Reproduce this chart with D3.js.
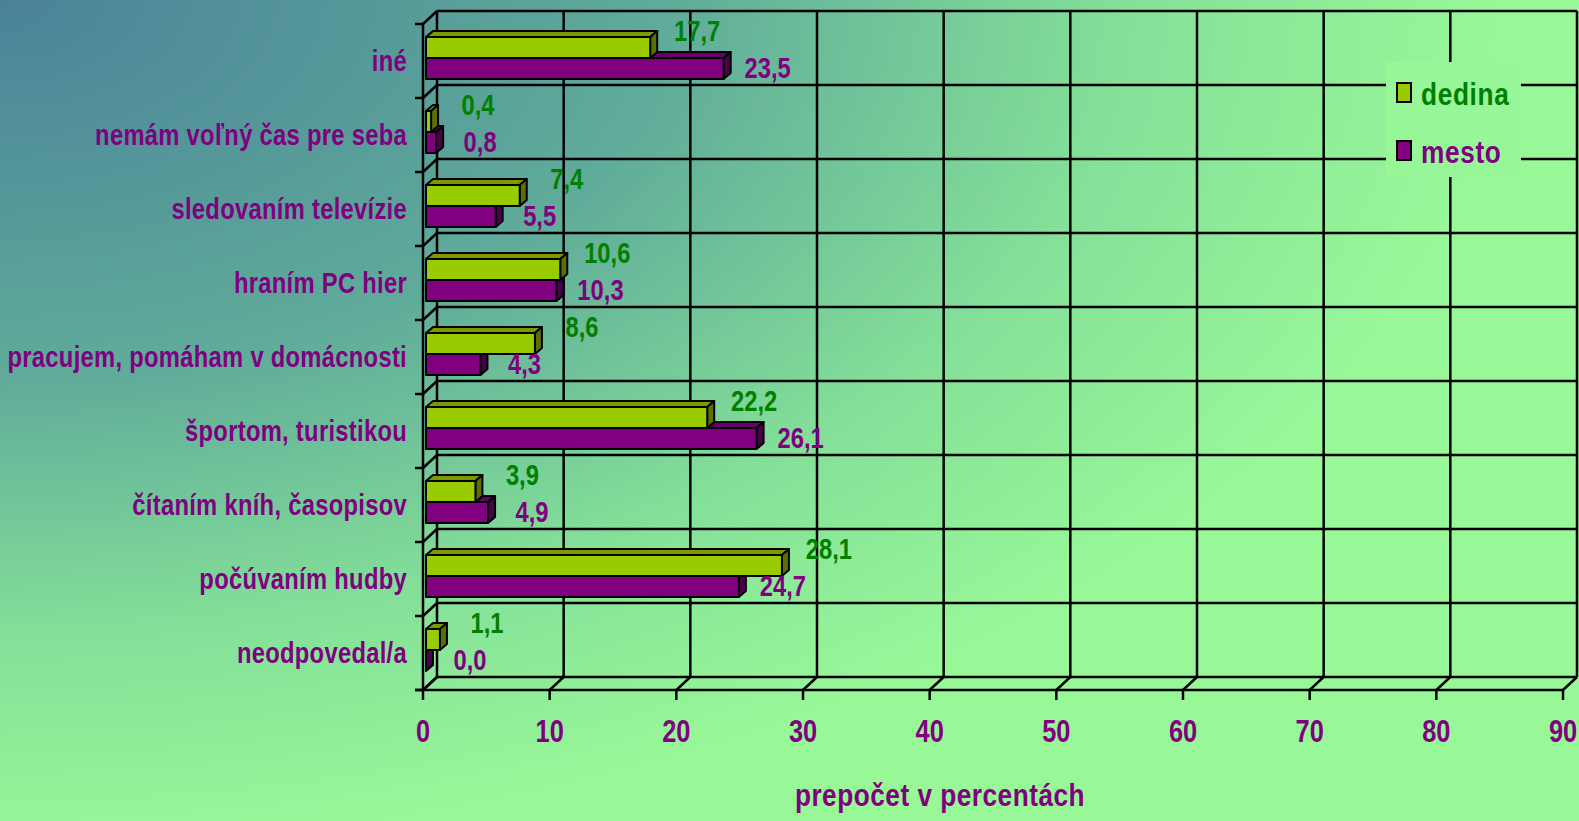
<!DOCTYPE html>
<html><head><meta charset="utf-8">
<script src="https://cdn.jsdelivr.net/npm/d3@7"></script>
<style>
html,body{margin:0;padding:0;overflow:hidden;}
text{font-family:"Liberation Sans","Arial",sans-serif;font-weight:bold;}
</style></head>
<body>
<svg id="c" width="1579" height="821"></svg>
<script>
const categories = ["iné","nemám voľný čas pre seba","sledovaním televízie","hraním PC hier","pracujem, pomáham v domácnosti","športom, turistikou","čítaním kníh, časopisov","počúvaním hudby","neodpovedal/a"];
const seriesNames = ["dedina","mesto"];
const dedina = [17.7,0.4,7.4,10.6,8.6,22.2,3.9,28.1,1.1];
const mesto  = [23.5,0.8,5.5,10.3,4.3,26.1,4.9,24.7,0.0];
const xTicks = [0,10,20,30,40,50,60,70,80,90];
const axisTitle = "prepočet v percentách";

(function(){
const svg = d3.select("#c");
const W=1579,H=821;
const DX=14, DY=-13;      // wall depth
const BX=7, BY=-6;        // bar depth
const SHIFT=3;
const NARROW=0.82;
const purple="#800080", green="#008000";
const colors={dedina:{front:"#99cc00",top:"#7a9a00",side:"#5b7000"},mesto:{front:"#800080",top:"#660066",side:"#4a004a"}};
const labelColor={dedina:green,mesto:purple};

function txt(parent,px,py,str,size,fill,anchor,ls){
  return parent.append("text")
    .attr("transform",`translate(${px},${py}) scale(${NARROW},1)`)
    .attr("font-size",size).attr("fill",fill).attr("text-anchor",anchor||"start")
    .attr("letter-spacing",ls||0).text(str);
}

const defs=svg.append("defs");
const rg=defs.append("radialGradient").attr("id","bg").attr("gradientUnits","userSpaceOnUse")
  .attr("cx",0).attr("cy",0).attr("r",1).attr("fx",0).attr("fy",0)
  .attr("gradientTransform","scale(1500,850)");
[[0,"#4a8299"],[0.45,"#60ac9a"],[0.75,"#84e098"],[1,"#98f898"]].forEach(s=>rg.append("stop").attr("offset",s[0]).attr("stop-color",s[1]));
svg.append("rect").attr("width",W).attr("height",H).attr("fill","#98f898");
svg.append("rect").attr("width",W).attr("height",H).attr("fill","url(#bg)");

const x=d3.scaleLinear().domain([0,90]).range([423,1563]);
const y=d3.scaleBand().domain(categories).range([24,690]);
const sub=d3.scaleBand().domain(seriesNames).range([13,55]);

const g=svg.append("g").attr("stroke","#000").attr("fill","none").attr("stroke-width",2.5);
const yTop=y.range()[0], yBot=y.range()[1];
xTicks.forEach(v=>{
  g.append("line").attr("x1",x(v)+DX).attr("x2",x(v)+DX).attr("y1",yTop+DY).attr("y2",yBot+DY);
});
const bounds=categories.map(c=>y(c)).concat([yBot]);
bounds.forEach(b=>{
  g.append("line").attr("x1",x(0)+DX).attr("x2",x(90)+DX).attr("y1",b+DY).attr("y2",b+DY);
  g.append("line").attr("x1",x(0)).attr("x2",x(0)+DX).attr("y1",b).attr("y2",b+DY);
  g.append("line").attr("x1",x(0)-8).attr("x2",x(0)).attr("y1",b).attr("y2",b);
});
g.append("line").attr("x1",x(0)).attr("x2",x(0)).attr("y1",yTop).attr("y2",yBot);
g.append("line").attr("x1",x(0)-8).attr("x2",x(90)).attr("y1",yBot).attr("y2",yBot);
xTicks.forEach(v=>{
  g.append("line").attr("x1",x(v)).attr("x2",x(v)+DX).attr("y1",yBot).attr("y2",yBot+DY);
  g.append("line").attr("x1",x(v)).attr("x2",x(v)).attr("y1",yBot).attr("y2",yBot+10);
});

svg.append("rect").attr("x",1386).attr("y",62).attr("width",135).attr("height",115).attr("fill","#97f698");

const barsG=svg.append("g");
categories.forEach((c,i)=>{
  const vals={dedina:dedina[i],mesto:mesto[i]};
  ["mesto","dedina"].forEach(s=>{
    const x0=x(0)+SHIFT, x1=x(vals[s])+SHIFT;
    const y0=y(c)+sub(s), y1=y0+sub.bandwidth();
    const col=colors[s];
    const bg=barsG.append("g").attr("stroke","#000").attr("stroke-width",2).attr("stroke-linejoin","round");
    bg.append("polygon").attr("points",[[x0,y0],[x0+BX,y0+BY],[x1+BX,y0+BY],[x1,y0]].join(" ")).attr("fill",col.top);
    bg.append("polygon").attr("points",[[x1,y0],[x1+BX,y0+BY],[x1+BX,y1+BY],[x1,y1]].join(" ")).attr("fill",col.side);
    if(x1-x0>0.5) bg.append("rect").attr("x",x0).attr("y",y0).attr("width",x1-x0).attr("height",y1-y0).attr("fill",col.front);
  });
});

const fmt=v=>d3.format(".1f")(v).replace(".",",");
const lab=svg.append("g");
categories.forEach((c,i)=>{
  txt(lab,x(dedina[i])+SHIFT+47,y(c)+17,fmt(dedina[i]),29,green,"middle");
  txt(lab,x(mesto[i])+SHIFT+44,y(c)+54,fmt(mesto[i]),29,purple,"middle");
});

const cl=svg.append("g");
categories.forEach(c=>txt(cl,407,y(c)+y.bandwidth()/2+10,c,29,purple,"end",0.35));

const tl=svg.append("g");
xTicks.forEach(v=>txt(tl,x(v),742,String(v),31,purple,"middle"));

txt(svg,940,806,axisTitle,32,purple,"middle",0.6);

const leg=svg.append("g");
seriesNames.forEach((s,i)=>{
  const ly=83+i*58;
  leg.append("rect").attr("x",1397).attr("y",ly).attr("width",14).attr("height",19).attr("fill",colors[s].front).attr("stroke","#000").attr("stroke-width",2);
  txt(leg,1421,ly+22,s,32,labelColor[s],"start",0.8);
});
})();
</script>
</body></html>
